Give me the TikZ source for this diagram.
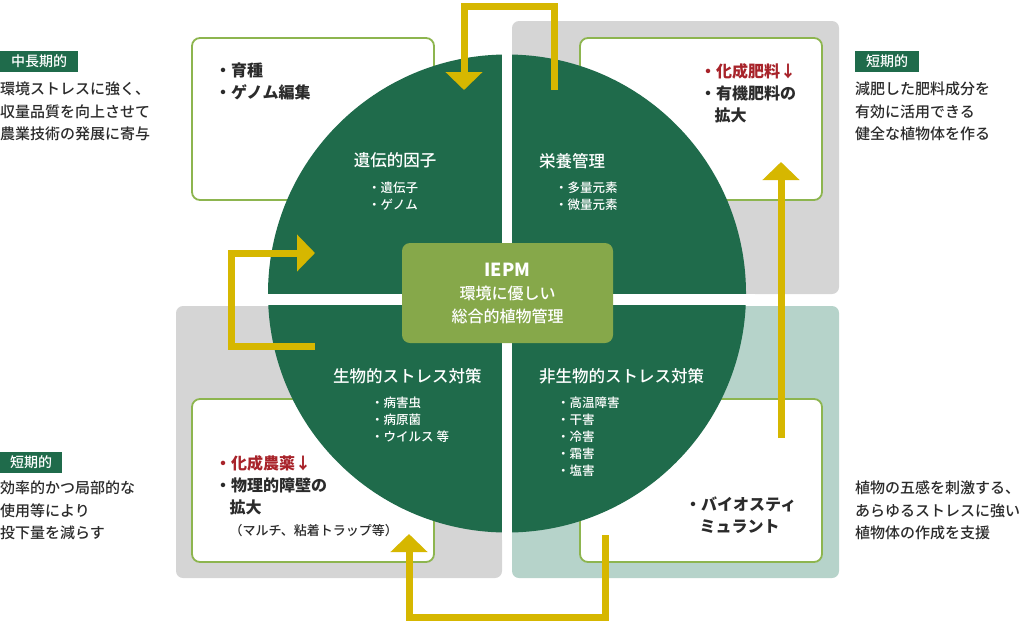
\documentclass[tikz,border=0pt]{standalone}
\usepackage{fontspec}
\setmainfont{Noto Sans CJK JP}
\newfontfamily\medfont{Noto Sans CJK JP Medium}
\usetikzlibrary{arrows.meta}
\definecolor{iepmdark}{HTML}{1F6B4B}
\definecolor{iepmolive}{HTML}{86A84A}
\definecolor{iepmline}{HTML}{8DB54F}
\definecolor{iepmgray}{HTML}{D5D5D5}
\definecolor{iepmteal}{HTML}{B6D3CA}
\definecolor{iepmyellow}{HTML}{D6B700}
\definecolor{iepmred}{HTML}{A8232A}
\definecolor{iepmtext}{HTML}{2B2B2B}
\newcommand{\fs}[2]{\fontsize{#1}{#2}\selectfont}
\tikzset{
  panel/.style={rounded corners=7pt},
  whitebox/.style={fill=white,draw=iepmline,line width=1.8pt,rounded corners=8pt},
  tag/.style={fill=iepmdark,text=white,font=\fs{14}{16}\medfont,inner sep=0pt,minimum height=21pt},
  side/.style={anchor=north west,inner sep=0pt,align=left,text=iepmtext,font=\fs{15}{22.5}\medfont},
  boxtext/.style={anchor=north west,inner sep=0pt,align=left,text=iepmtext,font=\fs{16}{22}\bfseries},
  title/.style={inner sep=0pt,text=white,font=\fs{16.5}{20}\medfont},
  items/.style={anchor=north west,inner sep=0pt,align=left,text=white,font=\fs{12.5}{17}\medfont},
  flow/.style={draw=iepmyellow,line width=7pt,line join=miter,-{Triangle[width=36pt,length=18pt]}}
}
\begin{document}
\begin{tikzpicture}[x=1pt,y=-1pt]
  \useasboundingbox (0,0) rectangle (1024,625);
  \fill[iepmgray,panel] (512,21) rectangle (839,294);
  \fill[iepmgray,panel] (176,306) rectangle (502,578);
  \fill[iepmteal,panel] (512,306) rectangle (839,578);
  \draw[whitebox] (192,38) rectangle (434,200);
  \draw[whitebox] (580,38) rectangle (822,200);
  \draw[whitebox] (192,399) rectangle (434,562);
  \draw[whitebox] (580,399) rectangle (822,562);
  \fill[iepmdark] (507,293.5) circle (239);
  \fill[white] (502,50) rectangle (512,540);
  \fill[white] (260,294) rectangle (755,305);
  \node[fill=iepmolive,rounded corners=8pt,minimum width=211pt,minimum height=100pt,
    align=center,text=white,font=\fs{16}{23}\medfont] (iepm) at (507.5,293)
    {{\fs{18}{23}\bfseries IEPM}\\環境に優しい\\総合的植物管理};
  \coordinate (t0) at (554,90);
  \coordinate (t1) at (554,6);
  \coordinate (t2) at (464,6);
  \coordinate (t3) at (464,90);
  \coordinate (l0) at (315,346);
  \coordinate (l1) at (231,346);
  \coordinate (l2) at (231,253);
  \coordinate (l3) at (315,253);
  \coordinate (b0) at (605,535);
  \coordinate (b1) at (605,617);
  \coordinate (b2) at (409,617);
  \coordinate (b3) at (409,534);
  \coordinate (r0) at (781,438);
  \coordinate (r1) at (781,162);
  \begin{scope}[flow]
    \draw (t0) -- (t1) -- (t2) -- (t3);
    \draw (l0) -- (l1) -- (l2) -- (l3);
    \draw (b0) -- (b1) -- (b2) -- (b3);
    \draw (r0) -- (r1);
  \end{scope}
  \node[tag,minimum width=78pt] (midterm) at (39,61.5) {中長期的};
  \node[tag,minimum width=64pt] (short1) at (887,61.5) {短期的};
  \node[tag,minimum width=62pt] (short2) at (31,462) {短期的};
  \node[side] (note1) at (0,82) {環境ストレスに強く、\\収量品質を向上させて\\農業技術の発展に寄与};
  \node[side] (note2) at (855,82) {減肥した肥料成分を\\有効に活用できる\\健全な植物体を作る};
  \node[side] (note3) at (0,481) {効率的かつ局部的な\\使用等により\\投下量を減らす};
  \node[side] (note4) at (855,481) {植物の五感を刺激する、\\あらゆるストレスに強い\\植物体の作成を支援};
  \node[boxtext] (breed) at (215,63) {・育種\\・ゲノム編集};
  \node[boxtext] (fert) at (700,63) {{\color{iepmred}・化成肥料↓}\\・有機肥料の\\\hspace*{0.9em}拡大};
  \node[boxtext] (pest) at (215,455) {{\color{iepmred}・化成農薬↓}\\・物理的障壁の\\\hspace*{0.9em}拡大\\
    \hspace*{0.9em}{\fs{13}{15}\mdseries\medfont（マルチ、粘着トラップ等）}};
  \node[boxtext] (bio) at (685,497) {・バイオスティ\\\hspace*{0.9em}ミュラント};
  \node[title] (gene) at (395,160) {遺伝的因子};
  \node[items] (genei) at (368,182) {・遺伝子\\・ゲノム};
  \node[title,anchor=west] (nutr) at (539,161) {栄養管理};
  \node[items] (nutri) at (555,182) {・多量元素\\・微量元素};
  \node[title,anchor=west] (biot) at (333,376) {生物的ストレス対策};
  \node[items] (bioti) at (371,397) {・病害虫\\・病原菌\\・ウイルス 等};
  \node[title,anchor=west] (abio) at (539,376) {非生物的ストレス対策};
  \node[items] (abioi) at (557,397) {・高温障害\\・干害\\・冷害\\・霜害\\・塩害};
\end{tikzpicture}
\end{document}
